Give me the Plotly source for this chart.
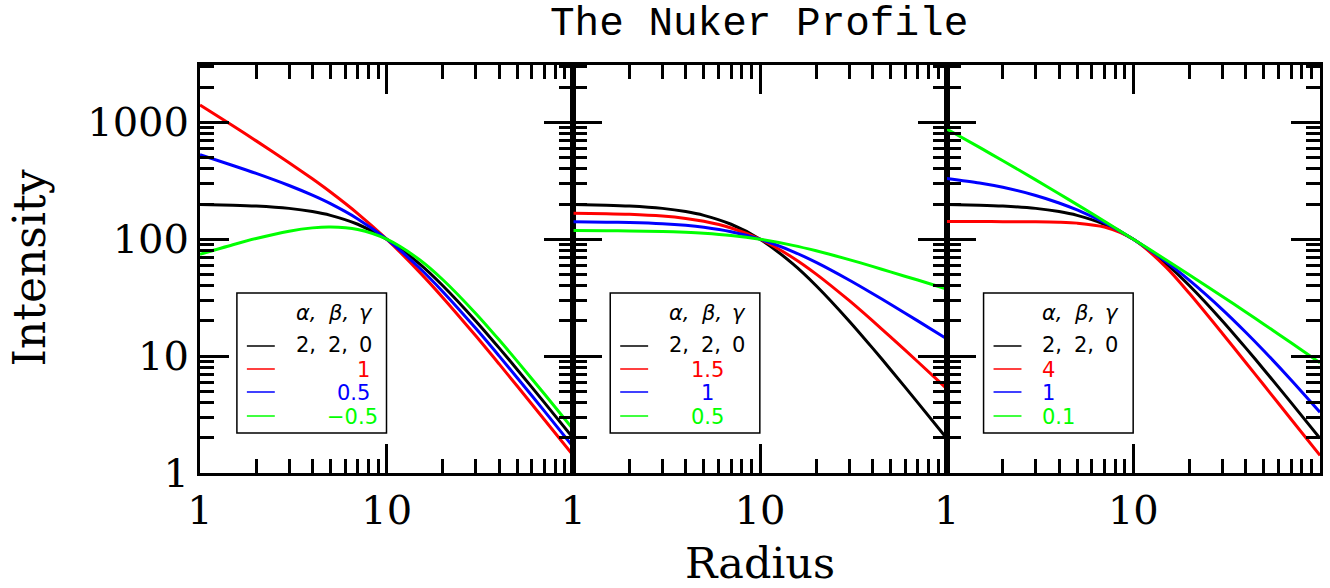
import plotly.graph_objects as go

# ---------------- data ----------------
radius = [1, 1.5, 2, 3, 4, 5, 7, 10, 15, 20, 30, 40, 50, 70, 100]

# panel 1: alpha=2, beta=2, gamma varies
p1_base = [198.0, 195.6, 192.3, 183.5, 172.4, 160.0, 134.2, 100.0, 61.5, 40.0, 20.0, 11.76, 7.69, 4.0, 1.98]
p1_g1 = [1407, 932.4, 693.4, 451.5, 328.3, 253.0, 165.5, 100.0, 52.3, 31.62, 14.91, 8.575, 5.547, 2.857, 1.407]
p1_g05 = [527.9, 427.0, 365.2, 287.8, 237.9, 201.2, 149.1, 100.0, 56.73, 35.57, 17.27, 10.04, 6.53, 3.38, 1.669]
p1_gm05 = [74.28, 89.59, 101.3, 116.96, 124.96, 127.24, 120.9, 100.0, 66.75, 44.99, 23.16, 13.78, 9.057, 4.733, 2.35]

# panel 2: alpha=2, gamma=0, beta varies
p2_base = p1_base
p2_b15 = [166.93, 165.40, 163.30, 157.65, 150.46, 142.26, 124.71, 100.0, 69.48, 50.30, 29.91, 20.09, 14.61, 8.945, 5.278]
p2_b1 = [140.72, 139.85, 138.68, 135.46, 131.31, 126.49, 115.85, 100.0, 78.45, 63.25, 44.72, 34.30, 27.74, 20.0, 14.07]
p2_b05 = [118.62, 118.26, 117.76, 116.39, 114.59, 112.47, 107.64, 100.0, 88.57, 79.53, 66.87, 58.57, 52.46, 44.72, 37.51]

# panel 3: beta=2, gamma=0, alpha varies
p3_base = p1_base
p3_a4 = [141.41, 141.39, 141.31, 140.85, 139.64, 137.20, 127.0, 100.0, 57.44, 34.30, 15.62, 8.822, 5.652, 2.886, 1.414]
p3_a1 = [330.6, 302.5, 277.8, 236.7, 204.1, 177.8, 138.4, 100.0, 64.0, 44.44, 25.0, 16.0, 11.11, 6.25, 3.306]
p3_a01 = [876.2, 609.4, 468.7, 321.5, 244.8, 197.6, 142.4, 100.0, 66.39, 49.41, 32.35, 23.83, 18.75, 13.0, 8.763]

legend_header = ["α,", "β,", "γ"]
legend_base = ["2,", "2,", "0"]
p1_labels = ["1", "0.5", "−0.5"]
p2_labels = ["1.5", "1", "0.5"]
p3_labels = ["4", "1", "0.1"]

x_tickvals = [1, 10, 100]
x_ticktext = ["1", "10", ""]
x_minor = [2, 3, 4, 5, 6, 7, 8, 9, 20, 30, 40, 50, 60, 70, 80, 90]
y_tickvals = [1, 10, 100, 1000]
y_ticktext = ["1", "10", "100", "1000"]
y_minor = [2, 3, 4, 5, 6, 7, 8, 9, 20, 30, 40, 50, 60, 70, 80, 90,
           200, 300, 400, 500, 600, 700, 800, 900, 2000, 3000]

title_text = "The Nuker Profile"
xlabel = "Radius"
ylabel = "Intensity"

# ---------------- styling ----------------
colors = ["#000000", "#ff0000", "#0000ff", "#00ff00"]
W, H = 1330, 588
# screen-pixel frame: left 200, right 1323, top 65, bottom 473
SL, SR, ST, SB = 200, 1323, 65, 473
L, T = SL, ST
R = W - SR
B = H - SB
PW = SR - SL
PH = SB - ST


def px(xs):
    return (xs - SL) / PW


def py(ys):
    return (SB - ys) / PH


panels = [
    [p1_base, p1_g1, p1_g05, p1_gm05],
    [p2_base, p2_b15, p2_b1, p2_b05],
    [p3_base, p3_a4, p3_a1, p3_a01],
]

fig = go.Figure()
for k, series in enumerate(panels):
    xa = "x" if k == 0 else f"x{k+1}"
    ya = "y" if k == 0 else f"y{k+1}"
    for s, c in zip(series, colors):
        fig.add_trace(go.Scatter(x=radius, y=s, mode="lines", xaxis=xa, yaxis=ya,
                                 line=dict(color=c, width=3, shape="spline", smoothing=0.8),
                                 showlegend=False, hoverinfo="skip"))

tickfont = dict(family="DejaVu Serif", size=40, color="black")
axis_common = dict(type="log", showline=True, linewidth=3, linecolor="black",
                   mirror="allticks", ticks="inside", tickwidth=3, tickcolor="black",
                   showgrid=False, zeroline=False, tickfont=tickfont)

layout = dict(width=W, height=H, margin=dict(l=L, r=R, t=T, b=B),
              paper_bgcolor="white", plot_bgcolor="white", showlegend=False)
for k in range(3):
    xs = "xaxis" if k == 0 else f"xaxis{k+1}"
    ys = "yaxis" if k == 0 else f"yaxis{k+1}"
    ya = "y" if k == 0 else f"y{k+1}"
    xa = "x" if k == 0 else f"x{k+1}"
    layout[xs] = dict(axis_common, domain=[k / 3, (k + 1) / 3], range=[0, 2], anchor=ya,
                      tickvals=x_tickvals, ticktext=x_ticktext, ticklen=29,
                      minor=dict(ticks="inside", ticklen=14, tickwidth=3, tickcolor="black",
                                 tickvals=x_minor, showgrid=False))
    layout[ys] = dict(axis_common, domain=[0, 1], range=[0, 3.49], anchor=xa,
                      tickvals=y_tickvals, ticktext=y_ticktext, ticklen=29,
                      showticklabels=(k == 0),
                      minor=dict(ticks="inside", ticklen=14, tickwidth=3, tickcolor="black",
                                 tickvals=y_minor, showgrid=False))
fig.update_layout(**layout)

shapes = []
annotations = []
legfont = dict(family="DejaVu Sans", size=21, color="black")
line_y = [346, 369, 392, 416]
text_y = [345, 370, 393, 417]
labels_all = [p1_labels, p2_labels, p3_labels]
for k in range(3):
    P = SL + k * PW / 3
    shapes.append(dict(type="rect", xref="paper", yref="paper",
                       x0=px(P + 37), x1=px(P + 187), y0=py(433), y1=py(293),
                       line=dict(color="black", width=1.5), fillcolor="white", layer="above"))
    for yy, c in zip(line_y, colors):
        shapes.append(dict(type="line", xref="paper", yref="paper",
                           x0=px(P + 47), x1=px(P + 75), y0=py(yy), y1=py(yy),
                           line=dict(color=c, width=1.5), layer="above"))
    col_x = [P + 94, P + 126, P + 157]
    for cx, t in zip(col_x, legend_header):
        annotations.append(dict(text=f"<i>{t}</i>", x=px(cx), y=py(313), xref="paper", yref="paper",
                                xanchor="left", yanchor="middle", showarrow=False, font=legfont))
    for cx, t in zip(col_x, legend_base):
        annotations.append(dict(text=t, x=px(cx), y=py(text_y[0]), xref="paper", yref="paper",
                                xanchor="left", yanchor="middle", showarrow=False, font=legfont))
    for j, t in enumerate(labels_all[k]):
        f = dict(legfont, color=colors[j + 1])
        if k == 0:
            xr = [P + 172, P + 172, P + 180][j]
            anchor = "right"
        elif k == 1:
            xr = P + 135
            anchor = "center"
        else:
            xr = P + 94
            anchor = "left"
        annotations.append(dict(text=t, x=px(xr), y=py(text_y[j + 1]), xref="paper", yref="paper",
                                xanchor=anchor, yanchor="middle", showarrow=False, font=f))

annotations.append(dict(text=title_text, x=px(760), y=py(24), xref="paper", yref="paper",
                        xanchor="center", yanchor="middle", showarrow=False,
                        font=dict(family="Liberation Mono", size=41, color="black")))
annotations.append(dict(text=xlabel, x=px(761), y=py(563), xref="paper", yref="paper",
                        xanchor="center", yanchor="middle", showarrow=False,
                        font=dict(family="DejaVu Serif", size=43, color="black")))
annotations.append(dict(text=ylabel, x=px(29), y=py(268), xref="paper", yref="paper",
                        xanchor="center", yanchor="middle", showarrow=False, textangle=-90,
                        font=dict(family="DejaVu Serif", size=44, color="black")))

fig.update_layout(shapes=shapes, annotations=annotations)
fig.write_html("out.html", config={"displayModeBar": False},
               post_script="document.body.style.margin='0px';")
